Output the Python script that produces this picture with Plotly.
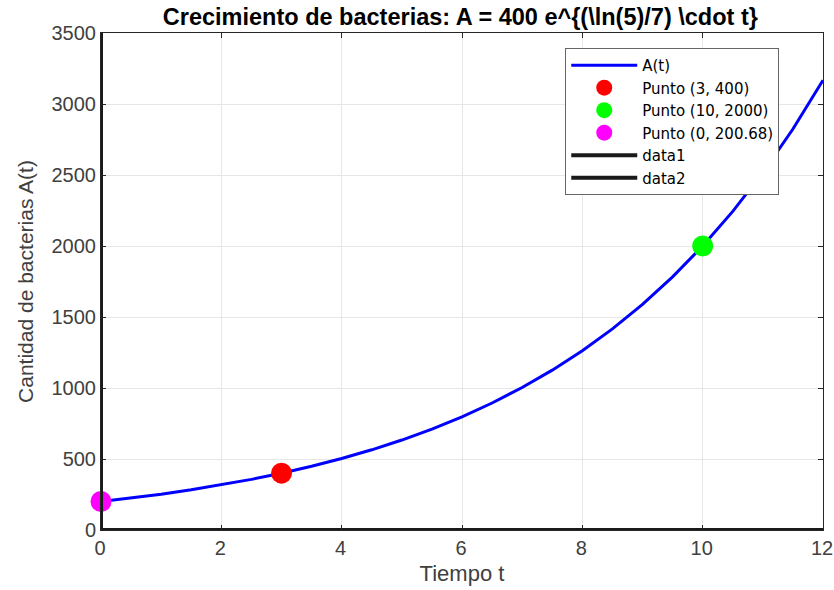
import plotly.graph_objects as go

# Curve A(t)
t_vals = [0, 0.5, 1, 1.5, 2, 2.5, 3, 3.5, 4, 4.5, 5, 5.5, 6, 6.5, 7, 7.5, 8, 8.5, 9, 9.5, 10, 10.5, 11, 11.5, 12]
a_vals = [200.68, 225.13, 252.55, 283.31, 317.84, 356.56, 400.0, 448.73, 503.39, 564.72, 633.53, 710.71,
          797.29, 894.41, 1003.4, 1125.6, 1262.8, 1416.6, 1589.2, 1782.8, 2000.0, 2243.6, 2517.0, 2823.6, 3167.6]

# Highlighted points
p_names = ["Punto (3, 400)", "Punto (10, 2000)", "Punto (0, 200.68)"]
p_x = [3, 10, 0]
p_y = [400, 2000, 200.68]
p_colors = ["#ff0000", "#00ff00", "#ff00ff"]

# Axis lines drawn as data
data1_x = [0, 12]
data1_y = [0, 0]
data2_x = [0, 0]
data2_y = [0, 3500]

x_ticks = [0, 2, 4, 6, 8, 10, 12]
y_ticks = [0, 500, 1000, 1500, 2000, 2500, 3000, 3500]

FONT = "Liberation Sans, Arial, sans-serif"

fig = go.Figure()
fig.add_trace(go.Scatter(x=t_vals, y=a_vals, mode="lines", name="A(t)",
                         line=dict(color="#0000ff", width=3)))
for n, x, y, c in zip(p_names, p_x, p_y, p_colors):
    fig.add_trace(go.Scatter(x=[x], y=[y], mode="markers", name=n, cliponaxis=False,
                             marker=dict(color=c, size=21, line=dict(width=0))))
fig.add_trace(go.Scatter(x=data1_x, y=data1_y, mode="lines", name="data1", cliponaxis=False,
                         line=dict(color="#1a1a1a", width=4)))
fig.add_trace(go.Scatter(x=data2_x, y=data2_y, mode="lines", name="data2", cliponaxis=False,
                         line=dict(color="#1a1a1a", width=4)))

axis_common = dict(showgrid=True, gridcolor="#e6e6e6", gridwidth=1, zeroline=False,
                   showline=True, linecolor="#262626", linewidth=1, mirror="ticks",
                   ticks="inside", ticklen=5, tickcolor="#262626", automargin=False,
                   tickfont=dict(family=FONT, size=20, color="#404040"))

fig.update_layout(
    width=834, height=590,
    margin=dict(l=101, r=11, t=33, b=60),
    paper_bgcolor="white", plot_bgcolor="white",
    title=dict(text="Crecimiento de bacterias: A = 400 e^{(\\ln(5)/7) \\cdot t}",
               x=0.552, xanchor="center", y=0.971, yanchor="middle", automargin=False,
               font=dict(family=FONT, size=23.5, color="#000000", weight="bold")),
    xaxis=dict(range=[0, 12], tickvals=x_ticks, ticklabelshift=-1,
               title=dict(text="Tiempo t", standoff=7,
                          font=dict(family=FONT, size=22, color="#404040")),
               **axis_common),
    yaxis=dict(range=[0, 3500], tickvals=y_ticks,
               title=dict(text="Cantidad de bacterias A(t)", standoff=12,
                          font=dict(family=FONT, size=21, color="#404040")),
               **axis_common),
    legend=dict(x=0.643, y=0.97, xanchor="left", yanchor="top",
                bgcolor="white", bordercolor="#666666", borderwidth=1,
                font=dict(family="DejaVu Sans, sans-serif", size=15, color="#000000"),
                tracegroupgap=0, itemwidth=66),
    showlegend=True,
)

# Remove the default page margin so the 834x590 figure fills the window exactly
fig.write_html("out.html", config={"displayModeBar": False},
               post_script="document.body.style.margin='0';document.body.style.overflow='hidden';")
